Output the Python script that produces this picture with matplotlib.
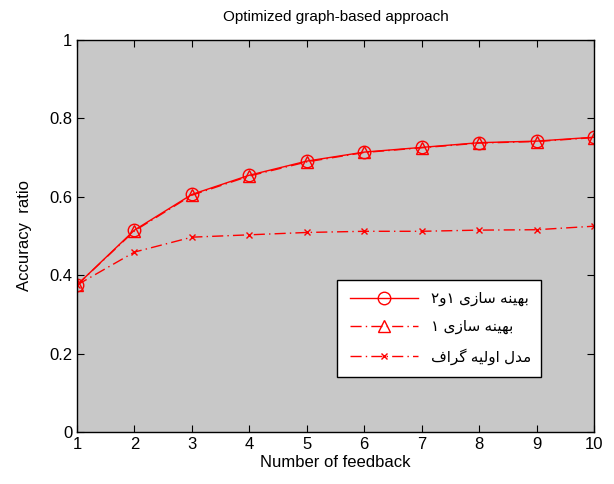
import numpy as np
import matplotlib
matplotlib.use("Agg")
import matplotlib.pyplot as plt

# number of feedback rounds
feedback = [1, 2, 3, 4, 5, 6, 7, 8, 9, 10]
# accuracy ratio per method
opt_1_2 = [0.375, 0.515, 0.606, 0.655, 0.691, 0.714, 0.726, 0.738, 0.742, 0.752]
opt_1 = [0.375, 0.513, 0.604, 0.653, 0.689, 0.713, 0.725, 0.737, 0.741, 0.751]
base_graph = [0.375, 0.459, 0.497, 0.503, 0.509, 0.512, 0.512, 0.515, 0.516, 0.525]

# Persian legend labels, pre-shaped glyphs written in visual (left to right) order
w_behine = "\uFEEA\uFEE8\uFEF4\uFEEC\uFE91"   # بهینه
w_sazi = "\uFEEF\uFEAF\uFE8E\uFEB3"            # سازی
w_madal = "\uFEDD\uFEAA\uFEE3"                 # مدل
w_avalie = "\uFEEA\uFEF4\uFEDF\uFEED\uFE8D"    # اولیه
w_graf = "\uFED1\uFE8D\uFEAE\uFB94"            # گراف
lbl_opt12 = "\u06F2\uFEED\u06F1 " + w_sazi + " " + w_behine
lbl_opt1 = "\u06F1 " + w_sazi + " " + w_behine
lbl_base = w_graf + " " + w_avalie + " " + w_madal

plt.rcParams['font.family'] = ['Liberation Sans', 'DejaVu Sans']

fig = plt.figure(figsize=(6.14, 4.84), dpi=100)
ax = fig.add_axes([0.1254, 0.1074, 0.842, 0.81])
ax.set_facecolor('#c8c8c8')

red = '#ff0000'
ax.plot(feedback, opt_1_2, '-', color=red, lw=1, marker='o', ms=9,
        mfc='none', mec=red, mew=1, label=lbl_opt12)
ax.plot(feedback, opt_1, color=red, lw=1, ls=(0, (8, 3, 1, 3)), marker='^', ms=9,
        mfc='none', mec=red, mew=1, label=lbl_opt1)
ax.plot(feedback, base_graph, color=red, lw=1, ls=(0, (8, 3, 1, 3)), marker='x', ms=5,
        mec=red, mew=1, label=lbl_base)

ax.set_xlim(1, 10)
ax.set_ylim(0, 1)
ax.set_xticks(feedback)
ax.set_yticks([0, 0.2, 0.4, 0.6, 0.8, 1])
ax.set_yticklabels(['0', '0.2', '0.4', '0.6', '0.8', '1'])
ax.tick_params(direction='in', top=True, right=True, length=5, labelsize=12)
for s in ax.spines.values():
    s.set_linewidth(1)

ax.set_title("Optimized graph-based approach", fontsize=11, pad=14)
ax.set_xlabel("Number of feedback", fontsize=12, labelpad=2)
ax.set_ylabel("Accuracy  ratio", fontsize=12, labelpad=12)

leg = ax.legend(loc='center', bbox_to_anchor=(0.489, 0.145, 0.424, 0.238),
                mode='expand', fancybox=False, framealpha=1, edgecolor='black',
                fontsize=11, handlelength=4.5, labelspacing=0.9, borderpad=0.8,
                markerfirst=True)
leg.get_frame().set_linewidth(1)

fig.savefig("out.png", dpi=100)
